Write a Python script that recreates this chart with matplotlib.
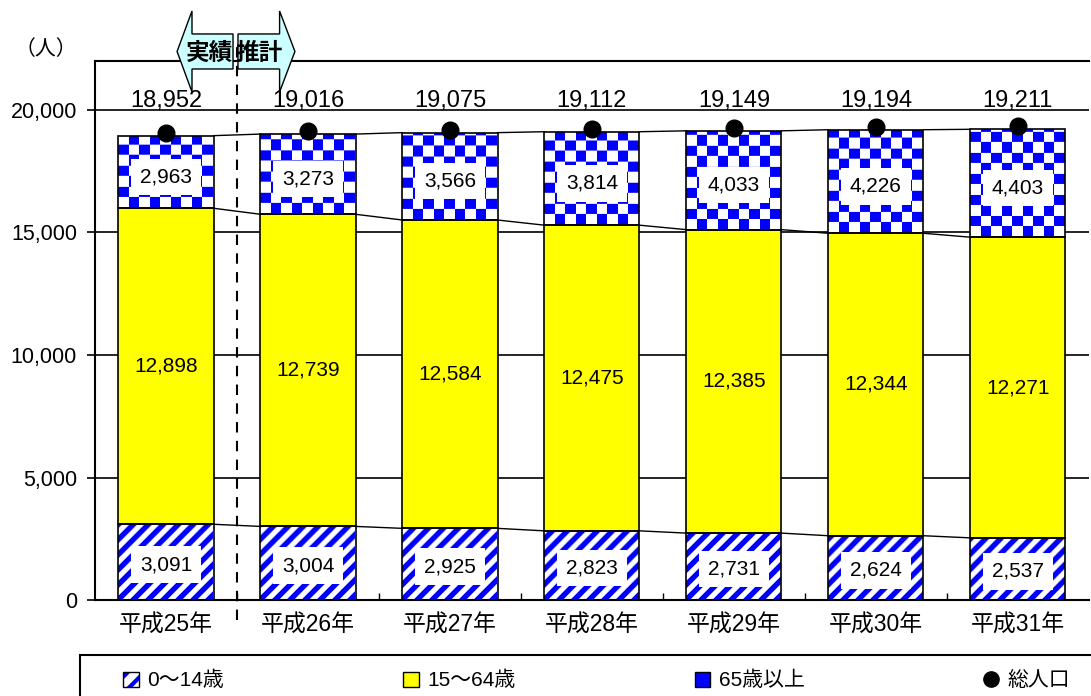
import numpy as np
import matplotlib
matplotlib.use('Agg')
import matplotlib.pyplot as plt
from matplotlib.colors import ListedColormap, LinearSegmentedColormap
from matplotlib.patches import Rectangle, Polygon, Patch
from matplotlib.lines import Line2D

plt.rcParams['font.family'] = ['Liberation Sans', 'Noto Sans CJK JP', 'DejaVu Sans']
plt.rcParams['hatch.linewidth'] = 3.0

years = ['平成25年', '平成26年', '平成27年', '平成28年', '平成29年', '平成30年', '平成31年']
age_0_14 = [3091, 3004, 2925, 2823, 2731, 2624, 2537]
age_15_64 = [12898, 12739, 12584, 12475, 12385, 12344, 12271]
age_65_over = [2963, 3273, 3566, 3814, 4033, 4226, 4403]
total = [18952, 19016, 19075, 19112, 19149, 19194, 19211]

BLUE = '#0000FF'
YELLOW = '#FFFF00'

fig = plt.figure(figsize=(10.91, 6.96), dpi=100)
ax = fig.add_axes([0.0871, 0.1379, 0.9109, 0.7745])

x = np.arange(len(years))
w = 0.67
a = np.array(age_0_14)
b = np.array(age_15_64)
c = np.array(age_65_over)

ax.set_xlim(-0.5, len(years) - 0.5)
ax.set_ylim(0, 22000)

# pixels per data unit, used to size the fill patterns
px_x = 142.0
px_y = 490.0 / 20000

# grid lines behind bars
for gy in range(5000, 20001, 5000):
    ax.axhline(gy, color='black', lw=1.2, zorder=0)

stripe_cmap = LinearSegmentedColormap.from_list('stripe', ['white', BLUE])
checker_cmap = ListedColormap(['white', BLUE])


def pattern_fill(x0, bot, h, kind):
    ncol = int(round(w * px_x))
    nrow = int(np.ceil(h * px_y))
    rows, cols = np.mgrid[0:nrow, 0:ncol]
    if kind == 'stripe':
        period = 15.0
        v = 0.5 + 0.5 * np.cos(2 * np.pi * (cols - rows) / period)
        img = np.clip((v - 0.5) * 3.5 + 0.5, 0, 1)
        cmap = stripe_cmap
    else:
        cell = 10.5
        img = ((rows // cell + cols // cell) % 2).astype(float)
        cmap = checker_cmap
    rect = Rectangle((x0, bot), w, h, facecolor='none', edgecolor='black', lw=1.2, zorder=4)
    ax.add_patch(rect)
    im = ax.imshow(img, cmap=cmap, vmin=0, vmax=1,
                   extent=(x0, x0 + ncol / px_x, bot, bot + nrow / px_y), origin='lower',
                   interpolation='bilinear', aspect='auto', zorder=2.5)
    im.set_clip_path(rect)


# 0~14 stripes, 15~64 yellow, 65+ checker
for xi, v0 in zip(x, a):
    pattern_fill(xi - w / 2, 0, v0, 'stripe')
ax.bar(x, b, w, bottom=a, color=YELLOW, edgecolor='black', lw=1.2, zorder=3)
for xi, bot, h in zip(x, a + b, c):
    pattern_fill(xi - w / 2, bot, h, 'checker')

# connector lines between bars
for level in [a, a + b, a + b + c]:
    for i in range(len(x) - 1):
        ax.plot([x[i] + w / 2, x[i + 1] - w / 2], [level[i], level[i + 1]],
                color='black', lw=1.0, zorder=1)

# total population dots
ax.plot(x, np.array(total) + 120, 'o', color='black', ms=12, zorder=6, clip_on=False)

box = dict(boxstyle='square,pad=0.42', facecolor='white', edgecolor='none')
for xi, v0, v1, v2, t in zip(x, a, b, c, total):
    ax.text(xi, v0 / 2 - 100, f'{v0:,}', ha='center', va='center', fontsize=15, bbox=box, zorder=7)
    ax.text(xi, v0 + v1 / 2, f'{v1:,}', ha='center', va='center', fontsize=15, zorder=7)
    ax.text(xi, v0 + v1 + v2 / 2 - 200, f'{v2:,}', ha='center', va='center', fontsize=15, bbox=box, zorder=7)
    ax.text(xi, 19900, f'{t:,}', ha='center', va='bottom', fontsize=17, zorder=7)

# axes styling
ax.set_xticks(x)
ax.set_xticklabels(years, fontsize=16.5)
ax.set_xticks(x[:-1] + 0.5, minor=True)
ax.tick_params(axis='x', which='major', length=0, pad=10)
ax.tick_params(axis='x', which='minor', direction='in', length=5, width=1)
ax.set_yticks(range(0, 20001, 5000))
ax.set_yticklabels([f'{v:,}' for v in range(0, 20001, 5000)], fontsize=15.5)
ax.tick_params(axis='y', length=6, width=1.2, pad=7)
for side in ['left', 'top', 'bottom']:
    ax.spines[side].set_linewidth(1.5)
ax.spines['right'].set_visible(False)

fig.text(0.042, 0.930, '（人）', fontsize=15, ha='center', va='center')

# actual / estimate divider
ax.plot([0.5, 0.5], [-816, 22857], color='black', lw=1.5, ls=(0, (5, 4)), clip_on=False, zorder=8)
left_arrow = [(0.472, 21673), (0.183, 21673), (0.183, 20735), (0.078, 22388),
              (0.183, 24040), (0.183, 23102), (0.472, 23102)]
right_arrow = [(0.507, 21673), (0.80, 21673), (0.80, 20735), (0.908, 22388),
               (0.80, 24040), (0.80, 23102), (0.507, 23102)]
for pts in [left_arrow, right_arrow]:
    ax.add_patch(Polygon(pts, closed=True, facecolor='#CCFFFF', edgecolor='black',
                         lw=1.0, clip_on=False, zorder=9))
ax.text(0.31, 22300, '実績', ha='center', va='center', fontsize=17, fontweight='bold', zorder=10)
ax.text(0.655, 22300, '推計', ha='center', va='center', fontsize=17, fontweight='bold', zorder=10)

# legend
fig.patches.append(Rectangle((80 / 1091, -0.1), 1.0, 0.159, transform=fig.transFigure,
                             facecolor='none', edgecolor='black', lw=1.5))
h1 = (Patch(facecolor='white', edgecolor=BLUE, hatch='//', lw=0),
      Patch(facecolor='none', edgecolor='black', lw=1))
h2 = Patch(facecolor=YELLOW, edgecolor='black', lw=1)
h3 = Patch(facecolor=BLUE, edgecolor='black', lw=1)
h4 = Line2D([], [], marker='o', color='black', ls='none', ms=11)
fig.legend([h1, h2, h3, h4], ['0〜14歳', '15〜64歳', '65歳以上', '総人口'],
           loc='center', bbox_to_anchor=(0.547, 0.022), ncol=4, frameon=False,
           fontsize=15, handlelength=0.75, handleheight=0.75, handletextpad=0.4,
           columnspacing=8.6)

fig.savefig('out.png', dpi=100)
